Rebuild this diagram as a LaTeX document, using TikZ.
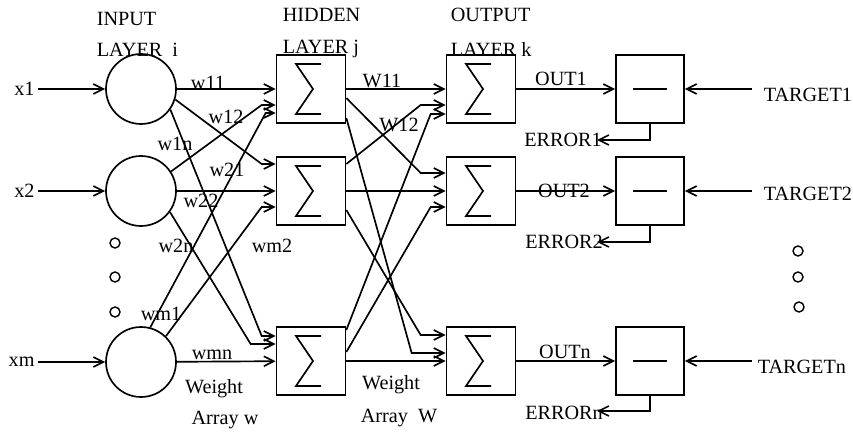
\documentclass[tikz,border=0pt]{standalone}
\usepackage{fontspec}
\setmainfont{Liberation Serif}
\usetikzlibrary{positioning}
\usetikzlibrary{calc}
\usetikzlibrary{arrows.meta}

\begin{document}
\begin{tikzpicture}[x=0.2mm,y=-0.2mm,line width=0.95pt,
  font=\fontsize{11.5}{13}\selectfont,
  link/.style={-{Straight Barb[length=2mm,width=2mm]}},
  neuron/.style={draw,circle,minimum size=14mm,inner sep=0pt},
  dot/.style={draw,circle,minimum size=2mm,inner sep=0pt,line width=0.8pt},
  sumbox/.style={draw,minimum width=13.8mm,minimum height=13.6mm,
    path picture={\draw ($(path picture bounding box.center)+(10,-25)$)
      -- ++(-25,0) -- ++(17,25) -- ++(-17,25) -- ++(25,0);}},
  diffbox/.style={draw,minimum width=13.6mm,minimum height=13.6mm,
    path picture={\draw ($(path picture bounding box.center)+(-17,0)$) -- ++(34,0);}},
  title/.style={anchor=west,inner sep=0pt},
  xlabel/.style={anchor=east,inner sep=1.5pt},
  tlabel/.style={anchor=west,inner xsep=2.2mm}]
\useasboundingbox (0,0) rectangle (853,434);

% input layer
\node[neuron] (in1) at (141,89) {};
\node[neuron] (in2) at (141,191) {};
\node[neuron] (inm) at (141,362) {};
\node[dot] (ld1) at (115,243) {};
\node[dot] (ld2) at (115,277) {};
\node[dot] (ld3) at (115,312) {};

% hidden layer
\node[sumbox] (h1) at (311,89) {};
\node[sumbox] (h2) at (311,191) {};
\node[sumbox] (h3) at (311,361) {};

% output layer
\node[sumbox] (o1) at (481,89) {};
\node[sumbox] (o2) at (481,191) {};
\node[sumbox] (o3) at (481,361) {};

% error units
\node[diffbox] (e1) at (650,89) {};
\node[diffbox] (e2) at (650,191) {};
\node[diffbox] (e3) at (650,361) {};
\node[dot] (rd1) at (798,251) {};
\node[dot] (rd2) at (798,277) {};
\node[dot] (rd3) at (799,307) {};

% layer titles
\node[title] (tin) at (96,19) {INPUT};
\node[title] (tinl) at (96,50) {LAYER\ \ i};
\node[title] (thid) at (282,15) {HIDDEN};
\node[title] (thidl) at (282,49) {LAYER j};
\node[title] (tout) at (450,15) {OUTPUT};
\node[title] (toutl) at (450,49) {LAYER k};

% inputs
\node[xlabel] (x1) at (38,89) {x1};
\node[xlabel] (x2) at (38,191) {x2};
\node[xlabel] (xm) at (38,362) {xm};
\draw[link] (x1) -- (in1);
\draw[link] (x2) -- (in2);
\draw[link] (xm) -- (inm);

% weights w
\draw[link] (in1) -- (h1);
\draw[link] (in1.-17) -- ($(h2.west)+(-14,-27)$) -- ($(h2.west)+(0,-27)$);
\draw[link] (in1.-35) -- ($(h3.west)+(-14,-25)$) -- ($(h3.west)+(0,-25)$);
\draw[link] (in2.33) -- ($(h1.west)+(-14,16)$) -- ($(h1.west)+(0,16)$);
\draw[link] (in2) -- (h2);
\draw[link] (in2.-36) -- ($(h3.west)+(-25,-17)$) -- ($(h3.west)+(0,-17)$);
\draw[link] (inm.75) -- ($(h1.west)+(-10,24)$) -- ($(h1.west)+(0,24)$);
\draw[link] (inm.46) -- ($(h2.west)+(-14,16)$) -- ($(h2.west)+(0,16)$);
\draw[link] (inm) -- (h3);

% weights W
\draw[link] (h1) -- (o1);
\draw[link] ($(h1.east)+(0,9)$) -- ($(o2.west)+(-25,-18)$) -- ($(o2.west)+(0,-18)$);
\draw[link] ($(h1.east)+(0,29)$) -- ($(o3.west)+(-34,-8)$) -- ($(o3.west)+(0,-8)$);
\draw[link] ($(h2.east)+(0,-27)$) -- ($(o1.west)+(-25,16)$) -- ($(o1.west)+(0,16)$);
\draw[link] (h2) -- (o2);
\draw[link] ($(h2.east)+(0,19)$) -- ($(o3.west)+(-25,-26)$) -- ($(o3.west)+(0,-26)$);
\draw[link] ($(h3.east)+(0,-31)$) -- ($(o1.west)+(-15,25)$) -- ($(o1.west)+(0,25)$);
\draw[link] ($(h3.east)+(0,-9)$) -- ($(o2.west)+(-15,16)$) -- ($(o2.west)+(0,16)$);
\draw[link] (h3) -- (o3);

% weight labels
\node (lw11) at (208,83) {w11};
\node (lw12) at (226,117) {w12};
\node (lw1n) at (175,144) {w1n};
\node (lw21) at (227,170) {w21};
\node (lw22) at (201,201) {w22};
\node (lw2n) at (176,246) {w2n};
\node (lwm2) at (272,246) {wm2};
\node (lwm1) at (161,314) {wm1};
\node (lwmn) at (212,355) {wmn};
\node (lwgt) at (214,389) {Weight};
\node (larr) at (225,420) {Array w};
\node (lW11) at (382,81) {W11};
\node (lW12) at (399,125) {W12};
\node (lWgt) at (391,385) {Weight};
\node (lArr) at (399,418) {Array\ \ W};

% outputs
\draw[link] (o1) -- (e1);
\draw[link] (o2) -- (e2);
\draw[link] (o3) -- (e3);
\node (out1) at (561,79) {OUT1};
\node (out2) at (564,191) {OUT2};
\node (outn) at (565,352) {OUTn};

% targets
\node[tlabel] (t1) at (752,95) {TARGET1};
\node[tlabel] (t2) at (752,194) {TARGET2};
\node[tlabel,inner xsep=1mm] (tn) at (752,367) {TARGETn};
\draw[link] (t1.west |- e1) -- (e1);
\draw[link] (t2.west |- e2) -- (e2);
\draw[link] (tn.west |- e3) -- (e3);

% errors
\coordinate (err1) at (597,140);
\coordinate (err2) at (597,242);
\coordinate (errn) at (597,411);
\draw[link] (e1.south) |- (err1);
\draw[link] (e2.south) |- (err2);
\draw[link] (e3.south) |- (errn);
\node (ler1) at (563,140) {ERROR1};
\node (ler2) at (564,242) {ERROR2};
\node (lern) at (564,413) {ERRORn};
\end{tikzpicture}
\end{document}
